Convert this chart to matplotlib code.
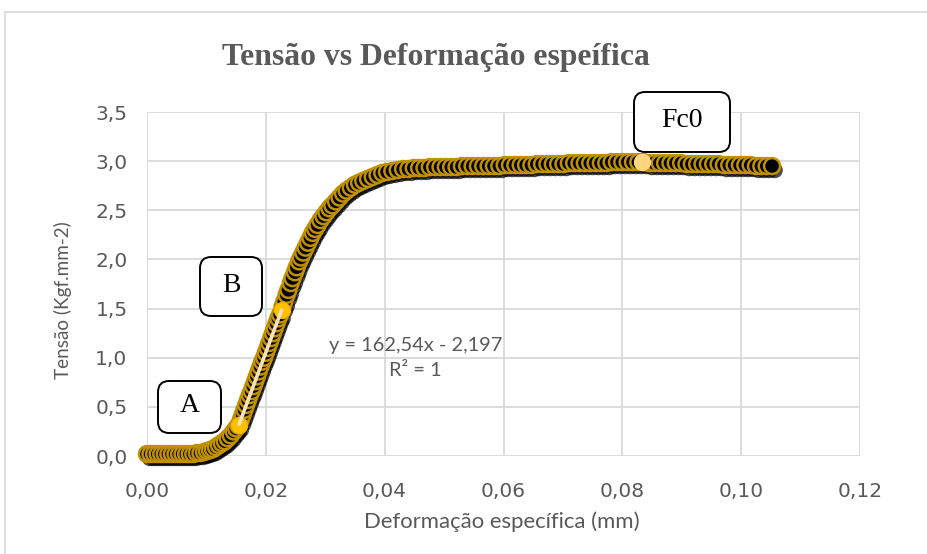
import matplotlib
matplotlib.use("Agg")
import matplotlib.pyplot as plt
import matplotlib.patheffects as pe
from matplotlib.patches import FancyBboxPatch, Rectangle

# ---------------- data ----------------
strain = [
    0.0000, 0.0006, 0.0012, 0.0018, 0.0024, 0.0030, 0.0036, 0.0042, 0.0048, 0.0054,
    0.0060, 0.0066, 0.0072, 0.0078, 0.0084, 0.0090, 0.0096, 0.0101, 0.0106, 0.0111,
    0.0116, 0.0121, 0.0126, 0.0131, 0.0136, 0.0141, 0.0146, 0.0150, 0.0154,
    0.0158, 0.0161, 0.0164, 0.0167, 0.0170, 0.0173, 0.0176, 0.0179, 0.0182, 0.0185,
    0.0188, 0.0191, 0.0194, 0.0197, 0.0200, 0.0203, 0.0206, 0.0209, 0.0212, 0.0215,
    0.0218, 0.0221, 0.0224,
    0.0228, 0.0231, 0.0235, 0.0238, 0.0242, 0.0245, 0.0249, 0.0252, 0.0256, 0.0259,
    0.0263, 0.0267, 0.0271, 0.0275, 0.0279, 0.0283, 0.0287, 0.0292, 0.0297, 0.0302,
    0.0307, 0.0312, 0.0318, 0.0324, 0.0330, 0.0336, 0.0343, 0.0350, 0.0357, 0.0364,
    0.0372, 0.0380, 0.0388, 0.0396, 0.0404,
    0.0413, 0.0422, 0.0431, 0.0440, 0.0449, 0.0458, 0.0467, 0.0476, 0.0485, 0.0494,
    0.0503, 0.0512, 0.0521, 0.0530, 0.0539, 0.0548, 0.0557, 0.0566, 0.0575, 0.0584,
    0.0593, 0.0602, 0.0611, 0.0620, 0.0629, 0.0638, 0.0647, 0.0656, 0.0665, 0.0674,
    0.0683, 0.0692, 0.0701, 0.0710, 0.0719, 0.0728, 0.0737, 0.0746, 0.0755, 0.0764,
    0.0773, 0.0782, 0.0791, 0.0800, 0.0809, 0.0818, 0.0827, 0.0836, 0.0845, 0.0854,
    0.0863, 0.0872, 0.0881, 0.0890, 0.0899, 0.0908, 0.0917, 0.0926, 0.0935, 0.0944,
    0.0953, 0.0962, 0.0971, 0.0980, 0.0989, 0.0998, 0.1007, 0.1016, 0.1025, 0.1034,
    0.1043, 0.1052,
]
stress = [
    0.02, 0.02, 0.02, 0.02, 0.02, 0.02, 0.02, 0.02, 0.02, 0.02,
    0.02, 0.02, 0.02, 0.02, 0.03, 0.03, 0.04, 0.05, 0.06, 0.07,
    0.09, 0.11, 0.13, 0.15, 0.18, 0.21, 0.25, 0.28, 0.31,
    0.37, 0.42, 0.47, 0.52, 0.57, 0.62, 0.66, 0.71, 0.76, 0.81,
    0.86, 0.91, 0.96, 1.00, 1.05, 1.10, 1.15, 1.20, 1.25, 1.30,
    1.35, 1.40, 1.44,
    1.52, 1.57, 1.64, 1.69, 1.76, 1.81, 1.87, 1.92, 1.98, 2.02,
    2.07, 2.12, 2.17, 2.22, 2.27, 2.31, 2.35, 2.40, 2.44, 2.48,
    2.52, 2.55, 2.59, 2.63, 2.67, 2.70, 2.73, 2.76, 2.78, 2.80,
    2.82, 2.84, 2.86, 2.88, 2.89,
    2.90, 2.91, 2.92, 2.92, 2.93, 2.93, 2.93, 2.94, 2.94, 2.94,
    2.94, 2.94, 2.94, 2.95, 2.95, 2.95, 2.95, 2.95, 2.95, 2.95,
    2.95, 2.96, 2.96, 2.96, 2.96, 2.96, 2.96, 2.97, 2.97, 2.97,
    2.97, 2.97, 2.97, 2.98, 2.98, 2.98, 2.98, 2.98, 2.98, 2.98,
    2.98, 2.99, 2.99, 2.99, 2.99, 2.99, 2.99, 2.99, 2.98, 2.98,
    2.98, 2.98, 2.98, 2.98, 2.98, 2.97, 2.97, 2.97, 2.97, 2.97,
    2.97, 2.97, 2.96, 2.96, 2.96, 2.96, 2.96, 2.96, 2.95, 2.95,
    2.95, 2.95,
]

point_labels = ["A", "B", "Fc0"]
point_x = [0.0155, 0.02265, 0.0833]
point_y = [0.32, 1.485, 2.99]

trend_slope = 162.54
trend_intercept = -2.197
trend_x = [0.0155, 0.02265]

x_ticks = [0.00, 0.02, 0.04, 0.06, 0.08, 0.10, 0.12]
x_ticklabels = ["0,00", "0,02", "0,04", "0,06", "0,08", "0,10", "0,12"]
y_ticks = [0.0, 0.5, 1.0, 1.5, 2.0, 2.5, 3.0, 3.5]
y_ticklabels = ["0,0", "0,5", "1,0", "1,5", "2,0", "2,5", "3,0", "3,5"]

title = "Tensão vs Deformação espeífica"
xlabel = "Deformação específica (mm)"
ylabel = "Tensão (Kgf.mm-2)"
eq_text = "y = 162,54x - 2,197\nR² = 1"

# ---------------- figure ----------------
W, H = 927, 554
fig = plt.figure(figsize=(W / 100, H / 100), dpi=100)
fig.patch.set_facecolor("white")
TICKFONT = "DejaVu Sans"
LABFONT = "Lato"
GREY = "#595959"

fig.patches.append(Rectangle((5 / W, -0.05), 1.1, 1 - 12 / H + 0.05,
                             transform=fig.transFigure, fill=False,
                             edgecolor="#D9D9D9", linewidth=1.2))

left, right = 147 / W, 860 / W
bottom, top = 1 - 456 / H, 1 - 112 / H
ax = fig.add_axes([left, bottom, right - left, top - bottom])
ax.set_xlim(0, 0.12)
ax.set_ylim(0, 3.5)
for s in ax.spines.values():
    s.set_visible(False)
ax.set_xticks(x_ticks)
ax.set_xticklabels(x_ticklabels)
ax.set_yticks(y_ticks)
ax.set_yticklabels(y_ticklabels)
ax.tick_params(length=0, labelsize=14.5, labelcolor=GREY)
ax.tick_params(axis="x", pad=19)
ax.tick_params(axis="y", pad=14)
for lab in ax.get_xticklabels() + ax.get_yticklabels():
    lab.set_fontfamily(TICKFONT)
ax.grid(True, color="#D9D9D9", linewidth=1.3)
ax.set_axisbelow(True)

ax.plot(strain, stress, linestyle="none", marker="o", markersize=11.5,
        markerfacecolor="black", markeredgecolor="#BF9000", markeredgewidth=1.8,
        clip_on=False, zorder=3,
        path_effects=[pe.SimplePatchShadow(offset=(2, -3), shadow_rgbFace="black", alpha=0.7),
                      pe.Normal()])

ax.plot(point_x[:2], point_y[:2], linestyle="none", marker="o", markersize=11.5,
        markerfacecolor="#FFC000", markeredgecolor="#F2B600", markeredgewidth=1.0, zorder=4)
ax.plot(point_x[2:], point_y[2:], linestyle="none", marker="o", markersize=11.5,
        markerfacecolor="#FFD580", markeredgecolor="#FFD580", markeredgewidth=1.0, zorder=4)

trend_y = [trend_slope * x + trend_intercept for x in trend_x]
ax.plot(trend_x, trend_y, color="#FBE0BC", linewidth=2.6, solid_capstyle="round", zorder=5)

eq = ax.text(0.0452, 1.0, eq_text, ha="center", va="center", fontsize=12.5,
             color=GREY, family=LABFONT, linespacing=1.55, zorder=6)

boxes = {"A": (158, 381, 221, 433), "B": (200, 257, 262, 316), "Fc0": (634, 92, 730, 152)}
for name in point_labels:
    x0, y0, x1, y1 = boxes[name]
    bw, bh = (x1 - x0) / W, (y1 - y0) / H
    p = FancyBboxPatch((x0 / W, 1 - y1 / H), bw, bh,
                       boxstyle="round,pad=0,rounding_size=0.012",
                       transform=fig.transFigure, facecolor="white",
                       edgecolor="black", linewidth=1.4, mutation_aspect=W / H, zorder=10)
    fig.patches.append(p)
    fig.text((x0 + x1) / 2 / W, 1 - (y0 + y1) / 2 / H + 0.002, name, ha="center", va="center",
             fontsize=20, family="Liberation Serif", color="black", zorder=11)

t_title = fig.text(436 / W, 1 - 58 / H, title, ha="center", va="center", fontsize=23,
                   fontweight="bold", family="Liberation Serif", color=GREY)
t_x = fig.text(501.5 / W, 1 - 522 / H, xlabel, ha="center", va="center", fontsize=15,
               family=LABFONT, color=GREY)
t_y = fig.text(63 / W, 1 - 300 / H, ylabel, ha="center", va="center", fontsize=13,
               family=LABFONT, color=GREY, rotation=90)

fig.canvas.draw()
r = fig.canvas.get_renderer()
def fit(t, target, use_height=False):
    bb = t.get_window_extent(r)
    cur = bb.height if use_height else bb.width
    t.set_fontsize(t.get_fontsize() * target / cur)
fit(t_title, 428)
fit(t_x, 277)
fit(t_y, 156, use_height=True)
fit(eq, 173)

fig.savefig("out.png", dpi=100, facecolor="white")
